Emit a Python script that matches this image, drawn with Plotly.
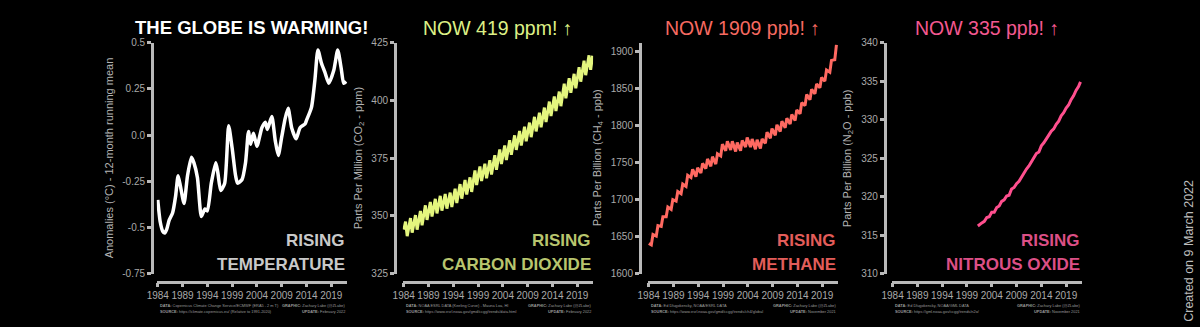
import plotly.graph_objects as go

W, H = 1200, 327


def px(x):
    return x / W


def py(y):
    return 1 - y / H


# ---------------- DATA ----------------
tick_years = [1984, 1989, 1994, 1999, 2004, 2009, 2014, 2019]

# Global temperature anomaly (12-month running mean, deg C, rel. 1991-2020)
temp_year = [1984.0, 1984.5, 1985.0, 1985.4, 1985.8, 1986.3, 1987.0, 1987.6, 1988.1, 1988.6,
             1989.3, 1990.0, 1990.8, 1991.3, 1992.0, 1992.8, 1993.5, 1994.0, 1994.8, 1995.7,
             1996.1, 1996.7, 1997.5, 1998.3, 1999.0, 1999.7, 2000.1, 2001.0, 2001.7, 2002.3,
             2002.7, 2003.3, 2004.0, 2005.0, 2005.7, 2006.1, 2007.0, 2007.7, 2008.3, 2009.0,
             2009.7, 2010.3, 2011.0, 2011.9, 2012.7, 2013.7, 2014.0, 2015.0, 2015.7, 2016.3,
             2017.0, 2017.7, 2018.5, 2019.5, 2020.3, 2021.0, 2021.5, 2022.0]
temp_anom = [-0.35, -0.47, -0.52, -0.53, -0.51, -0.46, -0.42, -0.33, -0.22, -0.28,
             -0.37, -0.22, -0.12, -0.15, -0.23, -0.44, -0.40, -0.41, -0.26, -0.15,
             -0.20, -0.30, -0.26, 0.05, -0.07, -0.22, -0.26, -0.24, -0.15, 0.02,
             -0.05, 0.01, -0.06, 0.04, 0.07, 0.03, 0.10, -0.03, -0.11, -0.01,
             0.09, 0.145, 0.04, -0.02, 0.04, 0.06, 0.08, 0.15, 0.30, 0.46,
             0.39, 0.34, 0.28, 0.35, 0.46, 0.36, 0.28, 0.29]

# Mauna Loa CO2 (ppm): yearly May maximum and September minimum
co2_years = list(range(1984, 2022))
co2_may_max = [347.6, 349.1, 350.4, 352.2, 354.6, 356.1, 357.4, 358.7, 359.5, 360.1,
               361.8, 363.8, 365.6, 366.7, 369.7, 371.4, 372.6, 374.1, 376.3, 378.8,
               380.5, 382.8, 384.9, 386.8, 388.6, 390.4, 392.9, 394.7, 396.9, 399.5,
               401.7, 403.8, 407.2, 409.6, 411.5, 414.4, 417.2, 419.5]
co2_sep_min = [341.3, 342.8, 344.1, 346.0, 348.3, 349.8, 351.1, 352.3, 353.2, 353.9,
               355.6, 357.5, 359.3, 360.4, 363.4, 365.1, 366.3, 367.9, 370.0, 372.5,
               374.2, 376.5, 378.6, 380.5, 382.3, 384.1, 386.6, 388.4, 390.6, 393.2,
               395.4, 397.5, 400.9, 403.3, 405.2, 408.1, 410.9, 413.2]
co2_first = (1984.04, 344.1)
co2_last = (2022.1, 419.3)

# Global CH4 (ppb): yearly July minimum and November maximum
ch4_years = list(range(1984, 2022))
ch4_jul_min = [1639, 1651, 1664, 1677, 1687, 1698, 1708, 1718, 1730, 1731,
               1736, 1742, 1745, 1748, 1759, 1766, 1767, 1765, 1766, 1771,
               1771, 1768, 1769, 1776, 1783, 1787, 1792, 1797, 1802, 1807,
               1816, 1827, 1835, 1843, 1851, 1860, 1872, 1889]
ch4_nov_max = [1653, 1665, 1677, 1690, 1700, 1711, 1721, 1733, 1741, 1743,
               1749, 1755, 1758, 1762, 1775, 1779, 1779, 1777, 1780, 1784,
               1782, 1781, 1782, 1791, 1796, 1801, 1806, 1810, 1815, 1821,
               1831, 1842, 1849, 1856, 1865, 1875, 1888, 1909]
ch4_first = (1984.04, 1641)

# Global N2O (ppb)
n2o_year = [2001.2, 2001.5, 2002.0, 2002.5, 2003.0, 2003.5, 2004.0, 2004.5, 2005.0, 2005.5,
            2006.0, 2006.5, 2007.0, 2007.5, 2008.0, 2008.5, 2009.0, 2009.5, 2010.0, 2010.5,
            2011.0, 2011.5, 2012.0, 2012.5, 2013.0, 2013.5, 2014.0, 2014.5, 2015.0, 2015.5,
            2016.0, 2016.5, 2017.0, 2017.5, 2018.0, 2018.5, 2019.0, 2019.5, 2020.0, 2020.5,
            2021.0, 2021.5, 2021.9]
n2o_ppb = [316.2, 316.4, 316.6, 316.8, 317.3, 317.4, 318.0, 318.0, 318.6, 318.8,
           319.4, 319.6, 320.1, 320.2, 321.0, 321.2, 321.7, 322.0, 322.6, 323.0,
           323.6, 324.0, 324.6, 325.0, 325.6, 325.8, 326.6, 327.0, 327.6, 328.0,
           328.5, 328.8, 329.4, 329.8, 330.5, 330.9, 331.5, 331.9, 332.6, 333.1,
           333.8, 334.3, 334.9]

temp_ticks = [0.5, 0.25, 0.0, -0.25, -0.5, -0.75]
temp_ticklabels = ["0.5", "0.25", "0.0", "-0.25", "-0.5", "-0.75"]
co2_ticks = [325, 350, 375, 400, 425]
ch4_ticks = [1600, 1650, 1700, 1750, 1800, 1850, 1900]
n2o_ticks = [310, 315, 320, 325, 330, 335, 340]

MAY, SEP, JUL, NOV = 4.5 / 12, 8.5 / 12, 6.5 / 12, 10.5 / 12


def zigzag(years, first_vals, first_off, second_vals, second_off):
    xs, ys = [], []
    for yr, a, b in zip(years, first_vals, second_vals):
        xs += [yr + first_off, yr + second_off]
        ys += [a, b]
    return xs, ys


co2_x, co2_y = zigzag(co2_years, co2_may_max, MAY, co2_sep_min, SEP)
co2_x = [co2_first[0]] + co2_x + [co2_last[0]]
co2_y = [co2_first[1]] + co2_y + [co2_last[1]]

ch4_x, ch4_y = zigzag(ch4_years, ch4_jul_min, JUL, ch4_nov_max, NOV)
ch4_x = [ch4_first[0]] + ch4_x
ch4_y = [ch4_first[1]] + ch4_y

# ---------------- STYLE ----------------
AXIS_COL = "#b9b9b9"
TICK_COL = "#a9a9a9"
FONT = "Liberation Sans"
FOOT = 3.9

panels = [
    dict(x=temp_year, y=temp_anom, color="#ffffff", width=3.5, shape="spline",
         xdom=(148, 340), ypos=143, yrange=[-0.75, 0.5], yticks=temp_ticks,
         yticktext=temp_ticklabels,
         title="THE GLOBE IS WARMING!", tcolor="#ffffff", tbold=True,
         ytitle="Anomalies (°C) - 12-month running mean", ytx=100,
         r1="RISING", r2="TEMPERATURE", rcolor="#c9c9c9",
         data="Copernicus Climate Change Service/ECMWF (ERA5 - 2 m T)",
         source="https://climate.copernicus.eu/ (Relative to 1991-2020)",
         update="February 2022"),
    dict(x=co2_x, y=co2_y, color="#e4f67e", width=3.0, shape="linear",
         xdom=(396, 588), ypos=388, yrange=[325, 425], yticks=co2_ticks, yticktext=None,
         title="NOW 419 ppm! ↑", tcolor="#ddf086", tbold=False,
         ytitle="Parts Per Million (CO<sub>2</sub> - ppm)", ytx=352,
         r1="RISING", r2="CARBON DIOXIDE", rcolor="#b8c56e",
         data="NOAA ESRL DATA (Keeling Curve) - Mauna Loa, HI",
         source="https://www.esrl.noaa.gov/gmd/ccgg/trends/data.html",
         update="February 2022"),
    dict(x=ch4_x, y=ch4_y, color="#ff6961", width=3.0, shape="linear",
         xdom=(643, 835), ypos=635, yrange=[1600, 1912], yticks=ch4_ticks, yticktext=None,
         title="NOW 1909 ppb! ↑", tcolor="#f76a61", tbold=False,
         ytitle="Parts Per Billion (CH<sub>4</sub> - ppb)", ytx=593,
         r1="RISING", r2="METHANE", rcolor="#e35d5a",
         data="Ed Dlugokencky, NOAA/ESRL DATA",
         source="https://www.esrl.noaa.gov/gmd/ccgg/trends/ch4/global",
         update="November 2021"),
    dict(x=n2o_year, y=n2o_ppb, color="#ff4f8e", width=3.0, shape="linear",
         xdom=(889, 1081), ypos=882, yrange=[310, 340], yticks=n2o_ticks, yticktext=None,
         title="NOW 335 ppb! ↑", tcolor="#f45890", tbold=False,
         ytitle="Parts Per Billion (N<sub>2</sub>O - ppb)", ytx=845,
         r1="RISING", r2="NITROUS OXIDE", rcolor="#dc4f86",
         data="Ed Dlugokencky, NOAA/GML DATA",
         source="https://gml.noaa.gov/ccgg/trends/n2o/",
         update="November 2021"),
]

fig = go.Figure()
annotations = []
layout = dict(
    width=W, height=H, margin=dict(l=0, r=0, t=0, b=0),
    paper_bgcolor="#000000", plot_bgcolor="#000000",
    showlegend=False, font=dict(family=FONT, color=TICK_COL),
)

YDOM = [py(278), py(38)]
XPOS = py(286)

for i, p in enumerate(panels, start=1):
    sfx = "" if i == 1 else str(i)
    fig.add_trace(go.Scatter(
        x=p["x"], y=p["y"], mode="lines",
        line=dict(color=p["color"], width=p["width"], shape=p["shape"], smoothing=0.6),
        xaxis="x" + sfx, yaxis="y" + sfx, hoverinfo="skip",
    ))
    x0, x1 = p["xdom"]
    layout["xaxis" + sfx] = dict(
        domain=[px(x0), px(x1)], anchor="free", position=XPOS,
        range=[1983.8, 2022.2], tickvals=tick_years,
        showline=True, linecolor=AXIS_COL, linewidth=2.5,
        ticks="outside", ticklen=4, tickwidth=2.5, tickcolor=AXIS_COL,
        showgrid=False, zeroline=False,
        tickfont=dict(family=FONT, size=10, color=TICK_COL),
    )
    yax = dict(
        domain=YDOM, anchor="free", position=px(p["ypos"]),
        range=p["yrange"], tickvals=p["yticks"],
        showline=True, linecolor=AXIS_COL, linewidth=2.5,
        ticks="outside", ticklen=4, tickwidth=2.5, tickcolor=AXIS_COL,
        showgrid=False, zeroline=False,
        tickfont=dict(family=FONT, size=10, color=TICK_COL),
    )
    if p["yticktext"]:
        yax["ticktext"] = p["yticktext"]
    layout["yaxis" + sfx] = yax

    xc = px((x0 + x1) / 2)
    title = "<b>%s</b>" % p["title"] if p["tbold"] else p["title"]
    annotations.append(dict(
        x=xc, y=py(22.5), xref="paper", yref="paper", text=title, showarrow=False,
        xanchor="center", yanchor="middle",
        font=dict(family=FONT, size=18.5 if p["tbold"] else 19.5, color=p["tcolor"]),
    ))
    annotations.append(dict(
        x=px(p["ytx"]), y=py(158), xref="paper", yref="paper", text=p["ytitle"],
        showarrow=False, textangle=-90, xanchor="center", yanchor="middle",
        font=dict(family=FONT, size=11, color="#b3b3b3"),
    ))
    for txt, yy in ((p["r1"], 243), (p["r2"], 268)):
        annotations.append(dict(
            x=px(x1), y=py(yy), xref="paper", yref="paper", text="<b>%s</b>" % txt,
            showarrow=False, xanchor="right", yanchor="middle",
            font=dict(family=FONT, size=17, color=p["rcolor"]),
        ))
    # footer
    annotations.append(dict(
        x=px(x0 + 1), y=py(311), xref="paper", yref="paper",
        text="<b>DATA:</b> %s" % p["data"], showarrow=False,
        xanchor="left", yanchor="middle", font=dict(family=FONT, size=FOOT, color="#9a9a9a"),
    ))
    annotations.append(dict(
        x=px(x0 + 1), y=py(317), xref="paper", yref="paper",
        text="<b>SOURCE:</b> %s" % p["source"], showarrow=False,
        xanchor="left", yanchor="middle", font=dict(family=FONT, size=FOOT, color="#9a9a9a"),
    ))
    annotations.append(dict(
        x=px(x1), y=py(311), xref="paper", yref="paper",
        text="<b>GRAPHIC:</b> Zachary Labe (@ZLabe)", showarrow=False,
        xanchor="right", yanchor="middle", font=dict(family=FONT, size=FOOT, color="#9a9a9a"),
    ))
    annotations.append(dict(
        x=px(x1), y=py(317), xref="paper", yref="paper",
        text="<b>UPDATE:</b> %s" % p["update"], showarrow=False,
        xanchor="right", yanchor="middle", font=dict(family=FONT, size=FOOT, color="#9a9a9a"),
    ))

annotations.append(dict(
    x=px(1189), y=py(254), xref="paper", yref="paper", text="Created on 9 March 2022",
    showarrow=False, textangle=-90, xanchor="center", yanchor="middle",
    font=dict(family=FONT, size=12.5, color="#bdbdbd"),
))

layout["annotations"] = annotations
fig.update_layout(**layout)
fig.write_html("out.html", post_script="document.body.style.margin='0';")
